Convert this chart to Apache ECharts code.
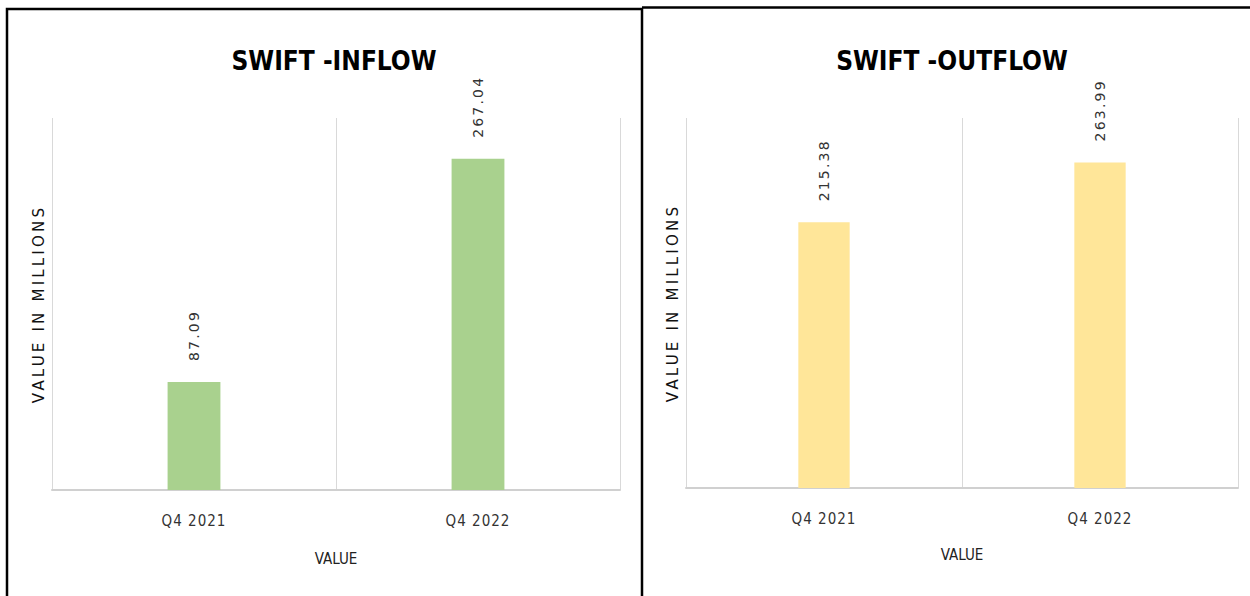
<!DOCTYPE html>
<html>
<head>
<meta charset="utf-8">
<script src="https://cdn.jsdelivr.net/npm/echarts@6/dist/echarts.min.js"></script>
<style>
  html, body { margin: 0; padding: 0; background: #fff; }
  #chart { width: 1250px; height: 596px; }
  #chart text[style*="Verdana"] { letter-spacing: 3.2px; }
  #chart text[style*="Geneva"] { letter-spacing: 2.2px; }
  #chart text[style*="Arial Narrow"] { letter-spacing: 1px; }
</style>
</head>
<body>
<div id="chart"></div>
<script>
const categories = ['Q4 2021', 'Q4 2022'];
const inflowValues = [87.09, 267.04];
const outflowValues = [215.38, 263.99];
const panelTitles = ['SWIFT -INFLOW', 'SWIFT -OUTFLOW'];
const yAxisName = 'VALUE IN MILLIONS';
const xAxisName = 'VALUE';
const barColors = ['#A9D18E', '#FFE699'];

const chart = echarts.init(document.getElementById('chart'), null, { renderer: 'svg' });

const grids = [
  { left: 52, top: 118, width: 568, height: 372 },
  { left: 686, top: 118, width: 552, height: 370 }
];
const titleCenters = [329, 947];

function xAxisFor(i) {
  return {
    type: 'category', gridIndex: i, data: categories,
    axisLine: { show: true, lineStyle: { color: '#d0d0d0', width: 2 } },
    axisTick: { show: false },
    splitLine: { show: true, lineStyle: { color: '#d9d9d9', width: 1 } },
    axisLabel: { margin: 23, fontSize: 15, color: '#333',
      fontFamily: 'DejaVu Sans Condensed, Arial Narrow' },
    name: xAxisName, nameLocation: 'middle', nameGap: i === 0 ? 61 : 59,
    nameTextStyle: { fontSize: 15, color: '#222',
      fontFamily: 'DejaVu Sans Condensed' }
  };
}
function yAxisFor(i) {
  return {
    type: 'value', gridIndex: i, min: 0, max: 300, interval: 100,
    axisLine: { show: false }, axisTick: { show: false },
    axisLabel: { show: false }, splitLine: { show: false },
    name: yAxisName, nameLocation: 'middle', nameGap: 6, nameRotate: 90,
    nameTextStyle: { fontSize: 15, color: '#111',
      fontFamily: 'DejaVu Sans, Verdana' }
  };
}
function seriesFor(i, values) {
  return {
    type: 'bar', xAxisIndex: i, yAxisIndex: i, data: values,
    barWidth: '18.6%',
    itemStyle: { color: barColors[i] },
    label: {
      show: true, position: 'top', rotate: 90, align: 'left', verticalAlign: 'middle',
      distance: 21, fontSize: 14, color: '#333',
      fontFamily: 'DejaVu Sans, Geneva',
      formatter: p => p.value.toFixed(2)
    }
  };
}

chart.setOption({
  animation: false,
  backgroundColor: '#ffffff',
  title: panelTitles.map((t, i) => ({
    text: t, left: titleCenters[i], top: 43, textAlign: 'center',
    textStyle: { fontSize: 26, fontWeight: 'bold', color: '#000',
      fontFamily: 'DejaVu Sans Condensed' }
  })),
  grid: grids,
  xAxis: [xAxisFor(0), xAxisFor(1)],
  yAxis: [yAxisFor(0), yAxisFor(1)],
  series: [seriesFor(0, inflowValues), seriesFor(1, outflowValues)],
  graphic: [
    { type: 'rect', silent: true, shape: { x: 7, y: 9, width: 635, height: 600 },
      style: { fill: 'none', stroke: '#000', lineWidth: 2.5 } },
    { type: 'line', silent: true, shape: { x1: 642, y1: 7.5, x2: 1252, y2: 7.5 },
      style: { stroke: '#000', lineWidth: 2.5 } }
  ]
});
</script>
</body>
</html>
